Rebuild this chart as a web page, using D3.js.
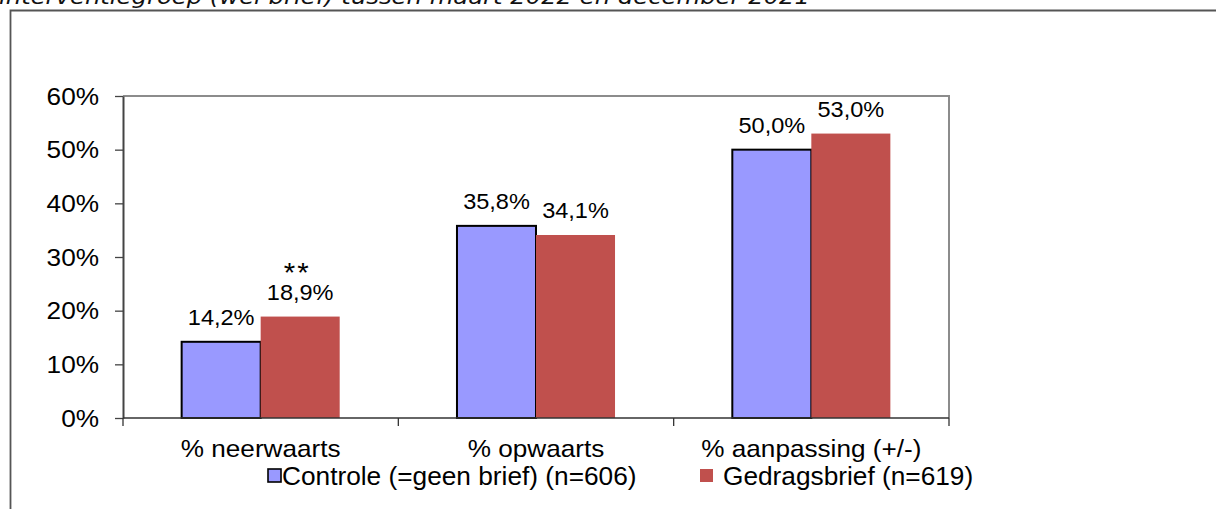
<!DOCTYPE html>
<html>
<head>
<meta charset="utf-8">
<script src="https://cdn.jsdelivr.net/npm/d3@7"></script>
<style>
  html, body { margin: 0; padding: 0; background: #fff; }
  svg { display: block; }
</style>
</head>
<body>
<div id="chart"></div>
<script>
// data
const categories = ['% neerwaarts', '% opwaarts', '% aanpassing (+/-)'];
const seriesNames = ['Controle (=geen brief) (n=606)', 'Gedragsbrief (n=619)'];
const controle = [0.142, 0.358, 0.500];
const gedragsbrief = [0.189, 0.341, 0.530];
const valueLabels = [['14,2%', '35,8%', '50,0%'], ['18,9%', '34,1%', '53,0%']];
const markers = [['', '', ''], ['**', '', '']];
const yTicks = [0, 0.1, 0.2, 0.3, 0.4, 0.5, 0.6];
const titleText = 'interventiegroep (wel brief) tussen maart 2022 en december 2021';

const W = 1216, H = 509;
const colors = ['#9999FF', '#C0504D'];
const font = '"Liberation Sans", Arial, sans-serif';

const svg = d3.select('#chart').append('svg')
  .attr('width', W)
  .attr('height', H);

// text helper: Excel export is slightly stretched horizontally
function txt(x, y, s, size, anchor, sx) {
  return svg.append('g')
    .attr('transform', `translate(${x},${y}) scale(${sx},1)`)
    .append('text')
    .attr('text-anchor', anchor)
    .attr('font-family', font)
    .attr('font-size', size + 'px')
    .attr('fill', '#000')
    .text(s);
}

// clipped title at the top
svg.append('text')
  .attr('x', -1).attr('y', 4)
  .attr('font-family', '"DejaVu Sans", Verdana, sans-serif')
  .attr('font-style', 'italic')
  .attr('font-size', '22px')
  .attr('textLength', 811)
  .attr('lengthAdjust', 'spacingAndGlyphs')
  .attr('fill', '#111')
  .text(titleText);

// outer frame (top + left only visible)
svg.append('path')
  .attr('d', `M10.5,${H} V10.5 H${W}`)
  .attr('fill', 'none')
  .attr('stroke', '#555')
  .attr('stroke-width', 1.8);

const plot = { left: 123, right: 949, top: 96, bottom: 418 };

const x0 = d3.scaleBand().domain(categories).range([plot.left, plot.right]).padding(0);
const bw = x0.bandwidth();
const x1 = d3.scaleBand().domain([0, 1]).range([bw * 0.213, bw * 0.787]).padding(0);
const y = d3.scaleLinear().domain([0, 0.6]).range([plot.bottom, plot.top]);

// plot border top/right in gray
svg.append('path')
  .attr('d', `M${plot.left},${plot.top} H${plot.right} V${plot.bottom}`)
  .attr('fill', 'none')
  .attr('stroke', '#8c8c8c')
  .attr('stroke-width', 2);

// y axis
const yAxis = svg.append('g')
  .attr('transform', `translate(${plot.left},0)`)
  .call(d3.axisLeft(y).tickValues(yTicks).tickFormat(d3.format('.0%')).tickSize(8).tickSizeOuter(0));
yAxis.select('.domain').attr('stroke', '#444').attr('stroke-width', 2);
yAxis.selectAll('.tick line').attr('stroke', '#444').attr('stroke-width', 1.3);
yAxis.selectAll('.tick text')
  .attr('x', -21)
  .attr('dy', '0.36em')
  .attr('transform', 'scale(1.14,1)')
  .attr('font-family', font)
  .attr('font-size', '23px')
  .attr('fill', '#000');

// bars
const groups = [controle, gedragsbrief];
groups.forEach((vals, s) => {
  svg.append('g').selectAll('rect')
    .data(vals)
    .join('rect')
    .attr('x', (d, i) => x0(categories[i]) + x1(s))
    .attr('y', d => y(d))
    .attr('width', x1.bandwidth())
    .attr('height', d => y(0) - y(d))
    .attr('fill', colors[s])
    .attr('stroke', s === 0 ? '#000' : 'none')
    .attr('stroke-width', 2);
});

// x axis line + boundary ticks
svg.append('line')
  .attr('x1', plot.left).attr('x2', plot.right)
  .attr('y1', plot.bottom).attr('y2', plot.bottom)
  .attr('stroke', '#333').attr('stroke-width', 1.6);
const bounds = categories.map(c => x0(c)).concat([plot.right]);
svg.append('g').selectAll('line')
  .data(bounds)
  .join('line')
  .attr('x1', d => d).attr('x2', d => d)
  .attr('y1', plot.bottom).attr('y2', plot.bottom + 8)
  .attr('stroke', '#333').attr('stroke-width', 1.3);

// category labels
categories.forEach(c => {
  txt(x0(c) + bw / 2, 457, c, 24, 'middle', 1.09);
});

// value labels
groups.forEach((vals, s) => {
  vals.forEach((v, i) => {
    const cx = x0(categories[i]) + x1(s) + x1.bandwidth() / 2;
    const by = y(v) - 16.5;
    txt(cx, by, valueLabels[s][i], 22, 'middle', 1.07);
    if (markers[s][i]) {
      txt(cx - 3, by - 18, markers[s][i], 28, 'middle', 1.05)
        .attr('letter-spacing', '2px');
    }
  });
});

// legend
const legend = [
  { sx: 268, tx: 282 },
  { sx: 700, tx: 723 }
];
legend.forEach((l, s) => {
  svg.append('rect')
    .attr('x', l.sx).attr('y', 469)
    .attr('width', 13).attr('height', 13)
    .attr('fill', colors[s])
    .attr('stroke', s === 0 ? '#000' : 'none')
    .attr('stroke-width', 1.6);
  txt(l.tx, 485, seriesNames[s], 25, 'start', 1.05);
});
</script>
</body>
</html>
